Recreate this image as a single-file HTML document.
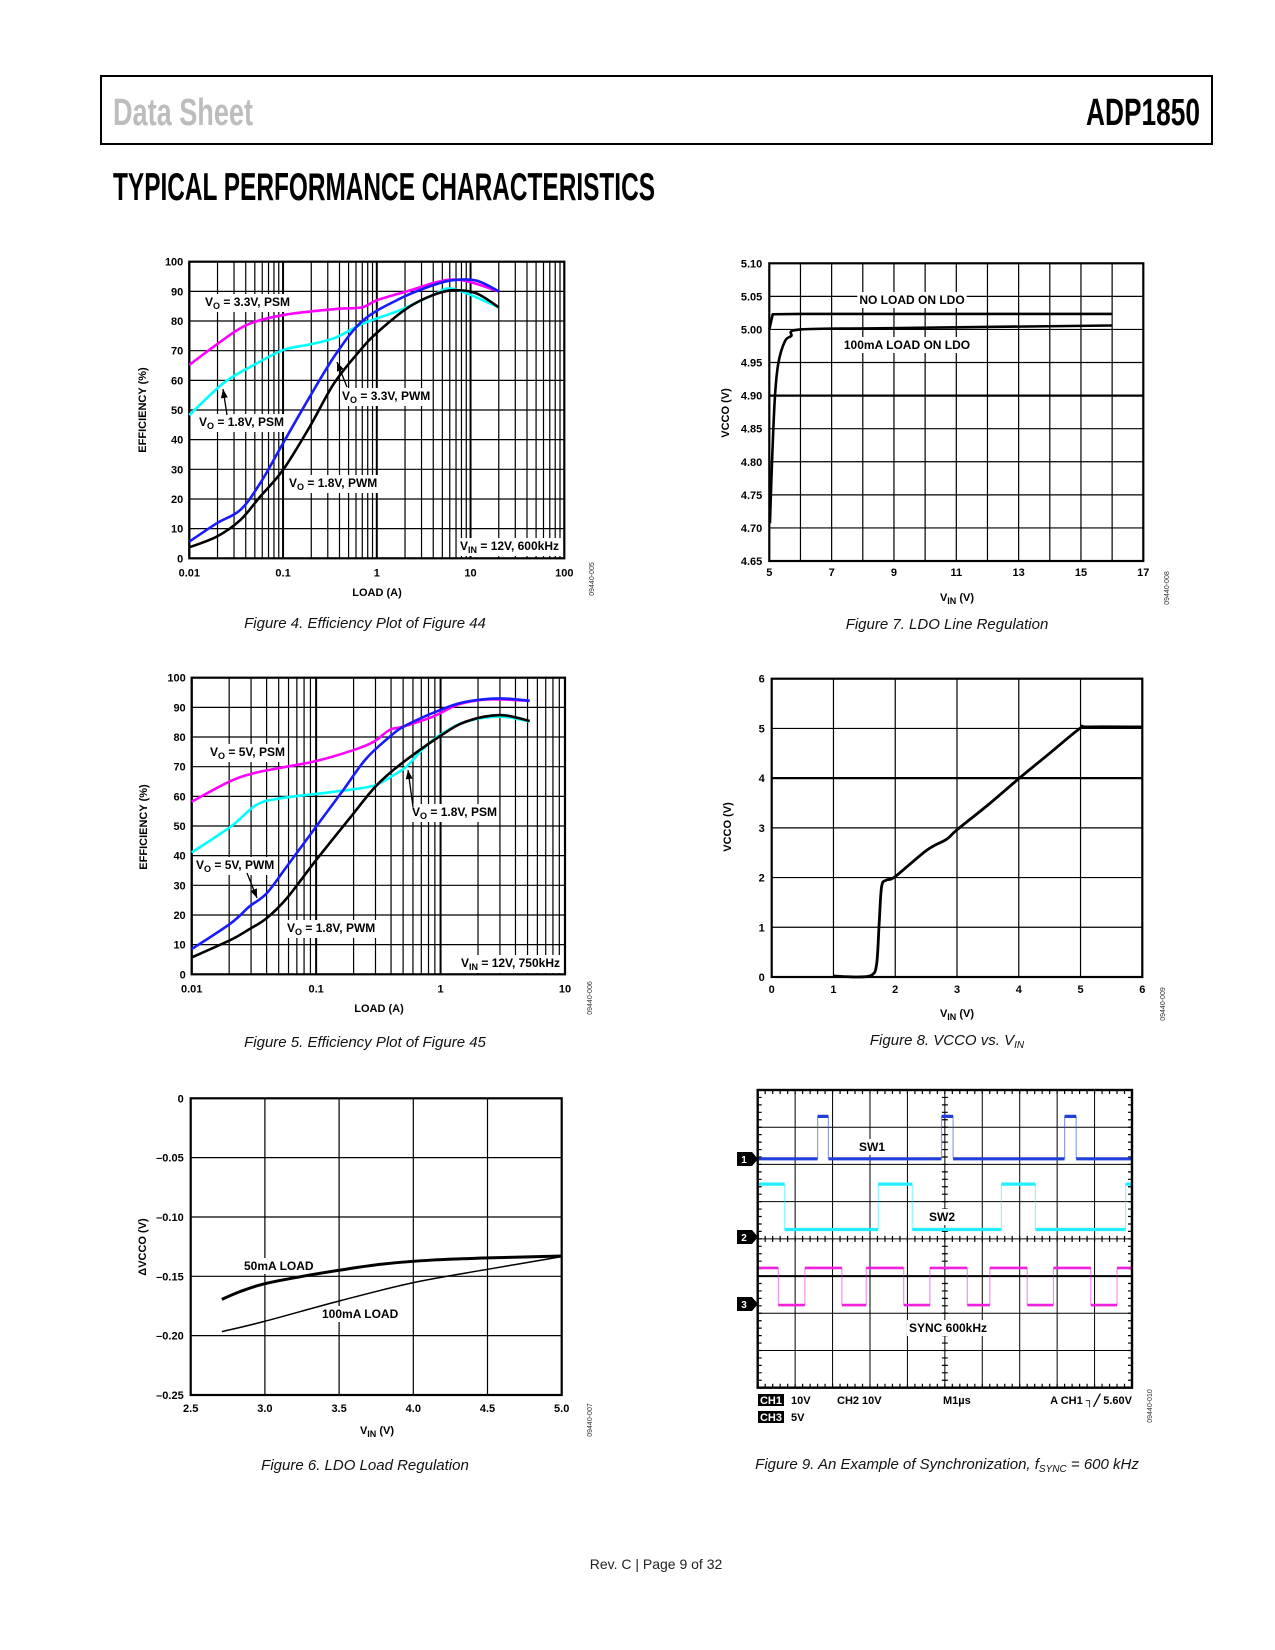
<!DOCTYPE html>
<html><head><meta charset="utf-8"><style>
html,body{margin:0;padding:0;background:#fff;}
svg{display:block;font-family:"Liberation Sans",Arial,sans-serif;}
</style></head><body>
<svg id="page" xmlns="http://www.w3.org/2000/svg" width="1275" height="1650" viewBox="0 0 1275 1650">
<rect x="101" y="76" width="1111" height="68" fill="none" stroke="#000" stroke-width="2"/>
<text x="113" y="125" font-size="38" fill="#bdbdbd" font-weight="bold" textLength="140" lengthAdjust="spacingAndGlyphs">Data Sheet</text>
<text x="1200" y="125" font-size="38" fill="#000" font-weight="bold" text-anchor="end" textLength="114" lengthAdjust="spacingAndGlyphs">ADP1850</text>
<text x="113" y="200" font-size="39" fill="#000" font-weight="bold" textLength="542" lengthAdjust="spacingAndGlyphs">TYPICAL PERFORMANCE CHARACTERISTICS</text>
<text x="656" y="1569" font-size="14" fill="#222" text-anchor="middle">Rev. C | Page 9 of 32</text>
</svg>
<script>
// ---------- Chart 1 data (Figure 4) ----------
const c1_xTicks = [0.01, 0.1, 1, 10, 100];
const c1_xTickLabels = ['0.01', '0.1', '1', '10', '100'];
const c1_yTicks = [0,10,20,30,40,50,60,70,80,90,100];
const c1_psm33_x = [0.01,0.0204,0.041,0.1,0.35,0.69,1.0,2.1,6.6,20];
const c1_psm33_y = [65.2,72.5,78.7,82,84,84.6,87,90,94,90];
const c1_psm18_x = [0.01,0.023,0.045,0.1,0.178,0.35,0.72,1.78,4,6.6,20];
const c1_psm18_y = [48.3,59,64.6,70.2,71.9,74.2,79.2,83.7,88.8,90.8,84.6];
const c1_pwm33_x = [0.01,0.0196,0.035,0.057,0.1,0.193,0.37,0.72,1.78,4,6.6,11.6,20];
const c1_pwm33_y = [5.6,11.8,16.3,25.3,38.8,54.5,69.1,80.3,87.6,92.1,93.8,93.6,90];
const c1_pwm18_x = [0.01,0.0196,0.035,0.057,0.1,0.193,0.35,0.66,1.0,2.1,4,6.6,11.6,20];
const c1_pwm18_y = [3.7,7.3,12.9,20.8,29.8,44.4,59,70,76,84.3,88.8,90.4,89.3,84.6];
// ---------- Chart 5 data (Figure 5) ----------
const c5_xTicks = [0.01, 0.1, 1, 10];
const c5_xTickLabels = ['0.01', '0.1', '1', '10'];
const c5_yTicks = [0,10,20,30,40,50,60,70,80,90,100];
const c5_psm5_x = [0.01,0.0206,0.033,0.058,0.1,0.2,0.29,0.39,0.5,0.87,1.35,2.1,3,5.2];
const c5_psm5_y = [58.2,65.2,68,70,71.9,75.6,78.4,82.4,83.5,86.9,90.8,92.5,92.7,92.2];
const c5_psm18_x = [0.01,0.0206,0.033,0.051,0.1,0.2,0.3,0.42,0.53,0.73,0.99,1.6,3,5.2];
const c5_psm18_y = [41.1,49.8,57.1,59.3,60.8,62.4,63.8,67.2,70,76.2,80.7,85.2,86.9,85.2];
const c5_pwm5_x = [0.01,0.0206,0.029,0.04,0.058,0.1,0.165,0.25,0.39,0.53,0.99,1.6,3,5.2];
const c5_pwm5_y = [8.5,17.2,22.8,27.3,36.3,49.8,62.1,72.5,80.1,84,89.1,91.9,93,92.2];
const c5_pwm18_x = [0.01,0.0206,0.029,0.04,0.058,0.1,0.19,0.3,0.47,0.99,1.6,3,5.2];
const c5_pwm18_y = [5.7,11.6,15.2,18.9,25.6,38.5,53.1,63.3,70.6,80.3,85.2,87.4,85.4];
// ---------- Chart 7 data (Figure 7) ----------
const c7_xTicks = [5,7,9,11,13,15,17];
const c7_yTicks = [4.65,4.70,4.75,4.80,4.85,4.90,4.95,5.00,5.05,5.10];
const c7_noload_x = [5.0,5.11,6,16];
const c7_noload_y = [5.000,5.023,5.0235,5.0235];
const c7_load_x = [5.02,5.09,5.18,5.29,5.5,5.7,6.0,8.87,15.98];
const c7_load_y = [4.707,4.803,4.898,4.949,4.982,4.99,5.000,5.002,5.006];
// ---------- Chart 8 data (Figure 8) ----------
const c8_xTicks = [0,1,2,3,4,5,6];
const c8_yTicks = [0,1,2,3,4,5,6];
const c8_x = [1.0,1.38,1.62,1.7,1.74,1.78,1.86,2.0,2.51,2.83,3.0,3.53,4.0,4.5,4.99,5.1,6.0];
const c8_y = [0.02,0,0.04,0.27,1.08,1.82,1.95,2.02,2.55,2.77,2.96,3.49,3.99,4.5,5.0,5.03,5.03];
// ---------- Chart 6 data (Figure 6) ----------
const c6_xTicks = [2.5,3.0,3.5,4.0,4.5,5.0];
const c6_xTickLabels = ['2.5','3.0','3.5','4.0','4.5','5.0'];
const c6_yTicks = [0,-0.05,-0.10,-0.15,-0.20,-0.25];
const c6_yTickLabels = ['0','\u20130.05','\u20130.10','\u20130.15','\u20130.20','\u20130.25'];
const c6_50_x = [2.71,2.83,2.99,3.24,3.51,3.8,4.14,4.47,5.0];
const c6_50_y = [-0.1694,-0.163,-0.1565,-0.1503,-0.1447,-0.1396,-0.1362,-0.1346,-0.1329];
const c6_100_x = [2.71,2.99,3.51,4.0,4.5,5.0];
const c6_100_y = [-0.1966,-0.1882,-0.1705,-0.1553,-0.1441,-0.1334];
// ---------- Scope data (Figure 9), in divisions: levels = [low, high] ----------
const sw1_toggles = [1.6,1.89,4.91,5.22,8.2,8.51];
const sw1_levels = [1.85,0.71];
const sw2_toggles = [0.72,3.22,4.13,6.51,7.42,9.83];
const sw2_levels = [3.75,2.53];
const sync_toggles = [0.55,1.26,2.25,2.9,3.9,4.6,5.6,6.2,7.2,7.9,8.9,9.6];
const sync_levels = [5.78,4.78];

const NS = 'http://www.w3.org/2000/svg';
const svg = document.getElementById('page');
function mk(tag, attrs, parent){
  const e = document.createElementNS(NS, tag);
  for (const k in attrs) e.setAttribute(k, attrs[k]);
  (parent||svg).appendChild(e);
  return e;
}
function linScale(d0,d1,r0,r1){ return v => r0 + (v-d0)/(d1-d0)*(r1-r0); }
function logScale(d0,d1,r0,r1){ return v => r0 + (Math.log10(v)-Math.log10(d0))/(Math.log10(d1)-Math.log10(d0))*(r1-r0); }
function smoothPath(pts){
  let d = 'M' + pts[0][0].toFixed(2) + ',' + pts[0][1].toFixed(2);
  for (let i=0;i<pts.length-1;i++){
    const p0 = pts[Math.max(0,i-1)], p1 = pts[i], p2 = pts[i+1], p3 = pts[Math.min(pts.length-1,i+2)];
    const c1x = p1[0]+(p2[0]-p0[0])/6, c1y = p1[1]+(p2[1]-p0[1])/6;
    const c2x = p2[0]-(p3[0]-p1[0])/6, c2y = p2[1]-(p3[1]-p1[1])/6;
    d += ' C'+c1x.toFixed(2)+','+c1y.toFixed(2)+' '+c2x.toFixed(2)+','+c2y.toFixed(2)+' '+p2[0].toFixed(2)+','+p2[1].toFixed(2);
  }
  return d;
}
function label(g, x, y, main, sub, rest, anchor, bg){
  const t = mk('text', {x:x, y:y, 'font-size':12, 'font-weight':'bold', 'text-anchor':anchor||'start', fill:'#000'}, g);
  t.appendChild(document.createTextNode(main));
  if (sub){
    const s = mk('tspan', {dy:3, 'font-size':9}, t);
    s.textContent = sub;
    const r = mk('tspan', {dy:-3}, t);
    r.textContent = rest;
  }
  if (bg){
    const b = t.getBBox();
    const rc = document.createElementNS(NS,'rect');
    rc.setAttribute('x', b.x-2); rc.setAttribute('y', b.y-1);
    rc.setAttribute('width', b.width+4); rc.setAttribute('height', b.height+2);
    rc.setAttribute('fill', '#fff');
    g.insertBefore(rc, t);
  }
  return t;
}
function arrow(g, x1,y1,x2,y2){
  mk('line', {x1:x1,y1:y1,x2:x2,y2:y2,stroke:'#000','stroke-width':1.3}, g);
  const a = Math.atan2(y2-y1,x2-x1), L=9, W=3.5;
  const bx = x2 - L*Math.cos(a), by = y2 - L*Math.sin(a);
  const p = [[x2,y2],[bx - W*Math.sin(a), by + W*Math.cos(a)],[bx + W*Math.sin(a), by - W*Math.cos(a)]];
  mk('polygon', {points:p.map(q=>q.join(',')).join(' '), fill:'#000'}, g);
}
function caption(text, sub, rest, cx, y){
  const t = mk('text', {x:cx, y:y, 'font-size':15, 'font-style':'italic', 'text-anchor':'middle', fill:'#111'});
  t.appendChild(document.createTextNode(text));
  if (sub){
    const s = mk('tspan', {dy:3, 'font-size':10}, t); s.textContent = sub;
    if (rest){ const r = mk('tspan', {dy:-3}, t); r.textContent = rest; }
  }
  
  
  return t;
}
function figId(text, x, y){
  const t = mk('text', {x:x, y:y, 'font-size':7, fill:'#333', 'text-anchor':'middle', transform:'rotate(-90 '+x+' '+y+')'});
  t.textContent = text;
  
  
}
function yTitle(g, text, x, y){
  const t = mk('text', {x:x, y:y, 'font-size':11, 'font-weight':'bold', 'text-anchor':'middle', transform:'rotate(-90 '+x+' '+y+')'}, g);
  t.textContent = text;
  
  
}
function xTitle(g, main, sub, rest, x, y){
  const t = label(g, x, y, main, sub, rest, 'middle', false);
  t.setAttribute('font-size', 11);
  
  
}
function series(g, X, Y, xs, ys, color, w, name){
  const pts = xs.map((v,i)=>[X(v), Y(ys[i])]);
  const p = mk('path', {d:smoothPath(pts), fill:'none', stroke:color, 'stroke-width':w, 'stroke-linejoin':'round'}, g);
  
  
  return p;
}
function linePath(g, X, Y, xs, ys, color, w, name){
  const d = xs.map((v,i)=>(i?'L':'M')+X(v).toFixed(2)+','+Y(ys[i]).toFixed(2)).join(' ');
  const p = mk('path', {d:d, fill:'none', stroke:color, 'stroke-width':w, 'stroke-linejoin':'round'}, g);
  
  
}

function effChart(name, box, xmin, xmax, xTicks, xLabels, yTicks){
  const g = mk('g', {});
  
  
  const X = logScale(xmin, xmax, box.x0, box.x1);
  const Y = linScale(0, 100, box.y1, box.y0);
  yTicks.forEach(v=>{
    const l = mk('line', {x1:box.x0,x2:box.x1,y1:Y(v),y2:Y(v),stroke:'#000','stroke-width':1.2}, g);
    
    
    const t = mk('text', {x:box.x0-6, y:Y(v)+4, 'font-size':11, 'font-weight':'bold', 'text-anchor':'end'}, g);
    t.textContent = String(v);
    
    
  });
  for (let d=xmin; d<xmax*0.999; d*=10){
    for (let k=1;k<10;k++){
      const v = d*k;
      const l = mk('line', {x1:X(v),x2:X(v),y1:box.y0,y2:box.y1,stroke:'#000','stroke-width':k===1?2:1.2}, g);
      
      
    }
  }
  xTicks.forEach((v,i)=>{
    const t = mk('text', {x:X(v), y:box.y1+18, 'font-size':11, 'font-weight':'bold', 'text-anchor':'middle'}, g);
    t.textContent = xLabels[i];
    
    
  });
  const r = mk('rect', {x:box.x0,y:box.y0,width:box.x1-box.x0,height:box.y1-box.y0,fill:'none',stroke:'#000','stroke-width':2.2}, g);
  
  
  return {g, X, Y};
}

// ===== Figure 4 =====
{
  const box = {x0:189.3, x1:564.3, y0:261.7, y1:558.3};
  const c = effChart('efficiency-chart-fig4', box, 0.01, 100, c1_xTicks, c1_xTickLabels, c1_yTicks);
  let t;
  t = label(c.g, 205, 306, 'V','O',' = 3.3V, PSM','start',true);  
  t = label(c.g, 199, 426, 'V','O',' = 1.8V, PSM','start',true);  
  t = label(c.g, 342, 400, 'V','O',' = 3.3V, PWM','start',true);  
  t = label(c.g, 289, 487, 'V','O',' = 1.8V, PWM','start',true);  
  t = label(c.g, 559, 550, 'V','IN',' = 12V, 600kHz','end',true);  
  series(c.g, c.X, c.Y, c1_psm33_x, c1_psm33_y, '#ff00ff', 2.6, 'series-3v3-psm');
  series(c.g, c.X, c.Y, c1_psm18_x, c1_psm18_y, '#00ffff', 2.6, 'series-1v8-psm');
  series(c.g, c.X, c.Y, c1_pwm18_x, c1_pwm18_y, '#000000', 2.6, 'series-1v8-pwm');
  series(c.g, c.X, c.Y, c1_pwm33_x, c1_pwm33_y, '#1a1aff', 2.6, 'series-3v3-pwm');
  arrow(c.g, 227, 415, 223, 389);
  arrow(c.g, 347, 387, 337, 362);
  xTitle(c.g, 'LOAD (A)', null, null, 377, 596);
  yTitle(c.g, 'EFFICIENCY (%)', 146, 410);
  caption('Figure 4. Efficiency Plot of Figure 44', null, null, 365, 628);
  figId('09440-005', 594, 579);
}
// ===== Figure 5 =====
{
  const box = {x0:191.7, x1:565, y0:677.7, y1:974.3};
  const c = effChart('efficiency-chart-fig5', box, 0.01, 10, c5_xTicks, c5_xTickLabels, c5_yTicks);
  let t;
  t = label(c.g, 210, 756, 'V','O',' = 5V, PSM','start',true);  
  t = label(c.g, 412, 816, 'V','O',' = 1.8V, PSM','start',true);  
  t = label(c.g, 196, 869, 'V','O',' = 5V, PWM','start',true);  
  t = label(c.g, 287, 932, 'V','O',' = 1.8V, PWM','start',true);  
  t = label(c.g, 560, 967, 'V','IN',' = 12V, 750kHz','end',true);  
  series(c.g, c.X, c.Y, c5_psm5_x, c5_psm5_y, '#ff00ff', 2.6, 'series-5v-psm');
  series(c.g, c.X, c.Y, c5_psm18_x, c5_psm18_y, '#00ffff', 2.6, 'series-1v8-psm');
  series(c.g, c.X, c.Y, c5_pwm18_x, c5_pwm18_y, '#000000', 2.6, 'series-1v8-pwm');
  series(c.g, c.X, c.Y, c5_pwm5_x, c5_pwm5_y, '#1a1aff', 2.6, 'series-5v-pwm');
  arrow(c.g, 413, 807, 408, 770);
  arrow(c.g, 247, 873, 257, 898);
  xTitle(c.g, 'LOAD (A)', null, null, 379, 1012);
  yTitle(c.g, 'EFFICIENCY (%)', 147, 827);
  caption('Figure 5. Efficiency Plot of Figure 45', null, null, 365, 1047);
  figId('09440-006', 592, 998);
}
// ===== Figure 7 =====
{
  const box = {x0:769.3, x1:1143.3, y0:263.3, y1:561};
  const g = mk('g', {});
  
  
  const X = linScale(5, 17, box.x0, box.x1);
  const Y = linScale(4.65, 5.10, box.y1, box.y0);
  for (let v=6; v<17; v++){
    const l = mk('line', {x1:X(v),x2:X(v),y1:box.y0,y2:box.y1,stroke:'#000','stroke-width':1.2}, g);
    
    
  }
  c7_yTicks.forEach(v=>{
    const l = mk('line', {x1:box.x0,x2:box.x1,y1:Y(v),y2:Y(v),stroke:'#000','stroke-width':Math.abs(v-4.90)<1e-6?2.2:1.2}, g);
    
    
    const t = mk('text', {x:box.x0-7, y:Y(v)+4, 'font-size':11, 'font-weight':'bold', 'text-anchor':'end'}, g);
    t.textContent = v.toFixed(2);
    
    
  });
  c7_xTicks.forEach(v=>{
    const t = mk('text', {x:X(v), y:box.y1+15, 'font-size':11, 'font-weight':'bold', 'text-anchor':'middle'}, g);
    t.textContent = String(v);
    
    
  });
  const r = mk('rect', {x:box.x0,y:box.y0,width:box.x1-box.x0,height:box.y1-box.y0,fill:'none',stroke:'#000','stroke-width':2.2}, g);
  
  
  let t = label(g, 912, 304, 'NO LOAD ON LDO', null, null, 'middle', true);
   
  t = label(g, 907, 349, '100mA LOAD ON LDO', null, null, 'middle', true);
   
  linePath(g, X, Y, c7_noload_x, c7_noload_y, '#000', 2.6, 'series-no-load');
  series(g, X, Y, c7_load_x, c7_load_y, '#000', 2.6, 'series-100ma-load');
  xTitle(g, 'V', 'IN', ' (V)', 957, 601);
  yTitle(g, 'VCCO (V)', 729, 413);
  caption('Figure 7. LDO Line Regulation', null, null, 947, 629);
  figId('09440-008', 1169, 588);
}
// ===== Figure 8 =====
{
  const box = {x0:771.7, x1:1142.3, y0:678.7, y1:977};
  const g = mk('g', {});
  
  
  const X = linScale(0, 6, box.x0, box.x1);
  const Y = linScale(0, 6, box.y1, box.y0);
  c8_xTicks.forEach(v=>{
    const l = mk('line', {x1:X(v),x2:X(v),y1:box.y0,y2:box.y1,stroke:'#000','stroke-width':1.2}, g);
    
    
    const t = mk('text', {x:X(v), y:box.y1+16, 'font-size':11, 'font-weight':'bold', 'text-anchor':'middle'}, g);
    t.textContent = String(v);
    
    
  });
  c8_yTicks.forEach(v=>{
    const l = mk('line', {x1:box.x0,x2:box.x1,y1:Y(v),y2:Y(v),stroke:'#000','stroke-width':v===4?2.2:1.2}, g);
    
    
    const t = mk('text', {x:box.x0-7, y:Y(v)+4, 'font-size':11, 'font-weight':'bold', 'text-anchor':'end'}, g);
    t.textContent = String(v);
    
    
  });
  const r = mk('rect', {x:box.x0,y:box.y0,width:box.x1-box.x0,height:box.y1-box.y0,fill:'none',stroke:'#000','stroke-width':2.2}, g);
  
  
  series(g, X, Y, c8_x, c8_y, '#000', 2.8, 'series-vcco');
  xTitle(g, 'V', 'IN', ' (V)', 957, 1017);
  yTitle(g, 'VCCO (V)', 731, 827);
  caption('Figure 8. VCCO vs. V', 'IN', null, 947, 1045);
  figId('09440-009', 1165, 1004);
}
// ===== Figure 6 =====
{
  const box = {x0:190.7, x1:561.7, y0:1098.3, y1:1395};
  const g = mk('g', {});
  
  
  const X = linScale(2.5, 5.0, box.x0, box.x1);
  const Y = linScale(-0.25, 0, box.y1, box.y0);
  c6_xTicks.forEach((v,i)=>{
    const l = mk('line', {x1:X(v),x2:X(v),y1:box.y0,y2:box.y1,stroke:'#000','stroke-width':1.2}, g);
    
    
    const t = mk('text', {x:X(v), y:box.y1+17, 'font-size':11, 'font-weight':'bold', 'text-anchor':'middle'}, g);
    t.textContent = c6_xTickLabels[i];
    
    
  });
  c6_yTicks.forEach((v,i)=>{
    const l = mk('line', {x1:box.x0,x2:box.x1,y1:Y(v),y2:Y(v),stroke:'#000','stroke-width':1.2}, g);
    
    
    const t = mk('text', {x:box.x0-7, y:Y(v)+4, 'font-size':11, 'font-weight':'bold', 'text-anchor':'end'}, g);
    t.textContent = c6_yTickLabels[i];
    
    
  });
  const r = mk('rect', {x:box.x0,y:box.y0,width:box.x1-box.x0,height:box.y1-box.y0,fill:'none',stroke:'#000','stroke-width':2.2}, g);
  
  
  let t = label(g, 244, 1270, '50mA LOAD', null, null, 'start', true);
   
  t = label(g, 322, 1318, '100mA LOAD', null, null, 'start', true);
   
  series(g, X, Y, c6_50_x, c6_50_y, '#000', 3, 'series-50ma');
  series(g, X, Y, c6_100_x, c6_100_y, '#000', 1.5, 'series-100ma');
  xTitle(g, 'V', 'IN', ' (V)', 377, 1434);
  yTitle(g, '\u0394VCCO (V)', 146, 1247);
  caption('Figure 6. LDO Load Regulation', null, null, 365, 1470);
  figId('09440-007', 592, 1420);
}
// ===== Figure 9 scope =====
{
  const box = {x0:757.7, x1:1132, y0:1090, y1:1387.7};
  const g = mk('g', {});
  
  
  const X = linScale(0, 10, box.x0, box.x1);
  const Y = linScale(0, 8, box.y0, box.y1);
  for (let i=1;i<10;i++){
    const l = mk('line', {x1:X(i),x2:X(i),y1:box.y0,y2:box.y1,stroke:'#000','stroke-width':1}, g);
    
    
  }
  for (let i=1;i<8;i++){
    const l = mk('line', {x1:box.x0,x2:box.x1,y1:Y(i),y2:Y(i),stroke:'#000','stroke-width':i===5?2:1}, g);
    
    
  }
  let tk = '';
  for (let v=0.2; v<10; v+=0.2){ const x=X(v); tk += 'M'+x+','+box.y0+'v4 M'+x+','+box.y1+'v-4 M'+x+','+(Y(4)-3)+'v6 '; }
  for (let v=0.2; v<8; v+=0.2){ const y=Y(v); tk += 'M'+box.x0+','+y+'h4 M'+box.x1+','+y+'h-4 M'+(X(5)-3)+','+y+'h6 '; }
  const ticks = mk('path', {d:tk, stroke:'#000', 'stroke-width':1.2, fill:'none'}, g);
  
  
  function wave(toggles, levels, startHigh, color, w, name){
    let state = startHigh ? 1 : 0, x = 0, dh = '', dv = '';
    const bounds = toggles.concat([10]);
    bounds.forEach((tx, i)=>{
      dh += 'M'+X(x).toFixed(1)+','+Y(levels[state]).toFixed(1)+'H'+X(tx).toFixed(1)+' ';
      if (i < toggles.length){
        dv += 'M'+X(tx).toFixed(1)+','+Y(levels[0]).toFixed(1)+'V'+Y(levels[1]).toFixed(1)+' ';
        state = 1-state; x = tx;
      }
    });
    const pv = mk('path', {d:dv, stroke:color, 'stroke-width':1.2, 'stroke-opacity':0.5, fill:'none'}, g);
    
    
    const ph = mk('path', {d:dh, stroke:color, 'stroke-width':w, fill:'none'}, g);
    
    
  }
  wave(sw1_toggles, sw1_levels, false, '#1f3fd8', 3.2, 'trace-sw1');
  wave(sw2_toggles, sw2_levels, true, '#22eeff', 3.2, 'trace-sw2');
  wave(sync_toggles, sync_levels, true, '#ee22dd', 2.6, 'trace-sync');
  const r = mk('rect', {x:box.x0,y:box.y0,width:box.x1-box.x0,height:box.y1-box.y0,fill:'none',stroke:'#000','stroke-width':2.4}, g);
  
  
  [['1',1159],['2',1237],['3',1304]].forEach(m=>{
    const y = m[1];
    const p = mk('polygon', {points:'737,'+(y-7)+' 752,'+(y-7)+' 758,'+y+' 752,'+(y+7)+' 737,'+(y+7), fill:'#000'}, g);
    
    
    const t = mk('text', {x:744, y:y+4, 'font-size':10, 'font-weight':'bold', fill:'#fff', 'text-anchor':'middle'}, g);
    t.textContent = m[0];
    
    
  });
  let t = label(g, 872, 1151, 'SW1', null, null, 'middle', true);
   
  t = label(g, 942, 1221, 'SW2', null, null, 'middle', true);
   
  t = label(g, 948, 1332, 'SYNC 600kHz', null, null, 'middle', true);
   
  [['CH1',1404],['CH3',1421]].forEach(c=>{
    const b = mk('rect', {x:758, y:c[1]-10, width:26, height:12, fill:'#000'}, g);
    
    
    const bt = mk('text', {x:771, y:c[1], 'font-size':11, 'font-weight':'bold', fill:'#fff', 'text-anchor':'middle'}, g);
    bt.textContent = c[0];
    
    
  });
  const rd = [['10V',791,1404,'start'],['CH2  10V',837,1404,'start'],['M1\u00b5s',943,1404,'start'],['A  CH1 \u2510\u2571 5.60V',1132,1404,'end'],['5V',791,1421,'start']];
  rd.forEach(v=>{
    const tt = mk('text', {x:v[1], y:v[2], 'font-size':11, 'font-weight':'bold', 'text-anchor':v[3], 'xml:space':'preserve'}, g);
    tt.textContent = v[0];
    
    
  });
  caption('Figure 9. An Example of Synchronization, f', 'SYNC', ' = 600 kHz', 947, 1469);
  figId('09440-010', 1152, 1406);
}
</script>
</body></html>
